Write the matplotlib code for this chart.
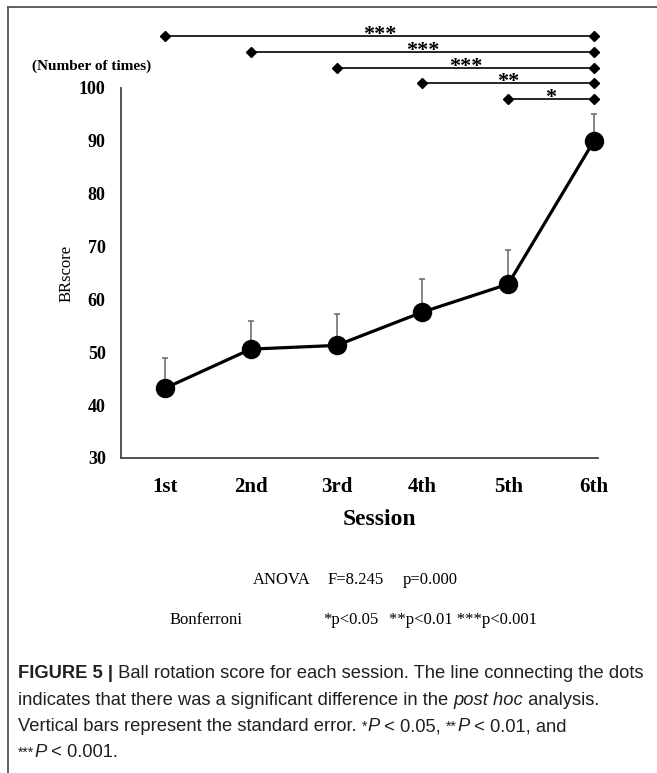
import numpy as np
import matplotlib.pyplot as plt
from matplotlib.lines import Line2D

# datos
sessions = ['1st', '2nd', '3rd', '4th', '5th', '6th']
br_score = [43.2, 50.6, 51.3, 57.6, 62.9, 90.0]
std_err = [5.7, 5.4, 5.9, 6.3, 6.5, 5.1]

# comparaciones post hoc (sesión i vs 6th)
sig_start = [0, 1, 2, 3, 4]
sig_level = [109.8, 106.8, 103.8, 100.9, 97.9]
sig_stars = ['***', '***', '***', '**', '*']

W, H = 657, 773
fig = plt.figure(figsize=(W / 100, H / 100), dpi=100)
serif = 'Liberation Serif'

ax = fig.add_axes([121 / W, 1 - 458 / H, (598 - 121) / W, (458 - 88) / H])
x = np.arange(len(sessions))

ax.errorbar(x, br_score, yerr=[np.zeros(len(x)), std_err], fmt='none',
            ecolor='#666666', elinewidth=1.1, capsize=2.5, capthick=1.1, zorder=2)
ax.plot(x, br_score, color='black', lw=2.3, marker='o', markersize=13, zorder=3, clip_on=False)

ax.set_xlim(-0.513, 5.047)
ax.set_ylim(30, 100)
ax.set_yticks(range(30, 101, 10))
ax.set_xticks(x)
ax.set_xticklabels(sessions)
for s in ['top', 'right']:
    ax.spines[s].set_visible(False)
for s in ['left', 'bottom']:
    ax.spines[s].set_color('#444444')
    ax.spines[s].set_linewidth(1.3)
ax.tick_params(axis='both', length=0)
ax.tick_params(axis='y', pad=11)
ax.tick_params(axis='x', pad=14)
for lab in ax.get_yticklabels():
    lab.set_fontfamily(serif); lab.set_fontweight('bold'); lab.set_fontsize(13)
for lab in ax.get_xticklabels():
    lab.set_fontfamily(serif); lab.set_fontweight('bold'); lab.set_fontsize(15)

ax.set_ylabel('BRscore', fontfamily=serif, fontsize=12, labelpad=3)
ax.text(2.5, -0.165, 'Session', transform=ax.get_xaxis_transform(), ha='center', va='center',
        fontfamily=serif, fontweight='bold', fontsize=17)

# barras de significancia
for i, lvl, st in zip(sig_start, sig_level, sig_stars):
    ax.plot([i, 5], [lvl, lvl], color='black', lw=1.2, marker='D', markersize=5,
            clip_on=False, zorder=4)
    ax.text((i + 5) / 2, lvl - 0.7, st, ha='center', va='baseline', fontfamily=serif,
            fontweight='bold', fontsize=16, clip_on=False)

fig.text(32 / W, 1 - 66 / H, '(Number of times)', fontfamily=serif, fontweight='bold',
         fontsize=11, va='center', ha='left')

# textos de estadística
fig.text(253 / W, 1 - 580 / H, 'ANOVA', fontfamily=serif, fontsize=12, va='center')
fig.text(328 / W, 1 - 580 / H, 'F=8.245', fontfamily=serif, fontsize=12, va='center')
fig.text(403 / W, 1 - 580 / H, 'p=0.000', fontfamily=serif, fontsize=12, va='center')
fig.text(170 / W, 1 - 620 / H, 'Bonferroni', fontfamily=serif, fontsize=12, va='center')
fig.text(323 / W, 1 - 620 / H, '*p<0.05', fontfamily=serif, fontsize=12, va='center')
fig.text(389 / W, 1 - 620 / H, '**p<0.01 ***p<0.001', fontfamily=serif, fontsize=12, va='center')

# marco
frame_kw = dict(color='#555555', lw=1.3, transform=fig.transFigure)
fig.add_artist(Line2D([8 / W, 8 / W], [0, 1 - 7 / H], **frame_kw))
fig.add_artist(Line2D([8 / W, 1], [1 - 7 / H, 1 - 7 / H], **frame_kw))

# pie de figura
renderer = fig.canvas.get_renderer()
cap_kw = dict(fontfamily='Liberation Sans', fontsize=13.2, color='#231f20', va='baseline')


def caption_line(y_px, segs):
    xx = 18 / W
    for s, extra in segs:
        kw = dict(cap_kw)
        kw.update(extra)
        t = fig.text(xx, 1 - y_px / H, s, **kw)
        xx += t.get_window_extent(renderer).width / fig.bbox.width


B = {'fontweight': 'bold'}
I = {'fontstyle': 'italic'}
S = {'fontsize': 10}
N = {}
caption_line(678, [('FIGURE 5 |', B), (' Ball rotation score for each session. The line connecting the dots', N)])
caption_line(705, [('indicates that there was a significant difference in the ', N), ('post hoc', I), (' analysis.', N)])
caption_line(731, [('Vertical bars represent the standard error. ', N), ('*', S), ('P', I), (' < 0.05, ', N),
                   ('**', S), ('P', I), (' < 0.01, and', N)])
caption_line(757, [('***', S), ('P', I), (' < 0.001.', N)])

fig.savefig('out.png', dpi=100)
